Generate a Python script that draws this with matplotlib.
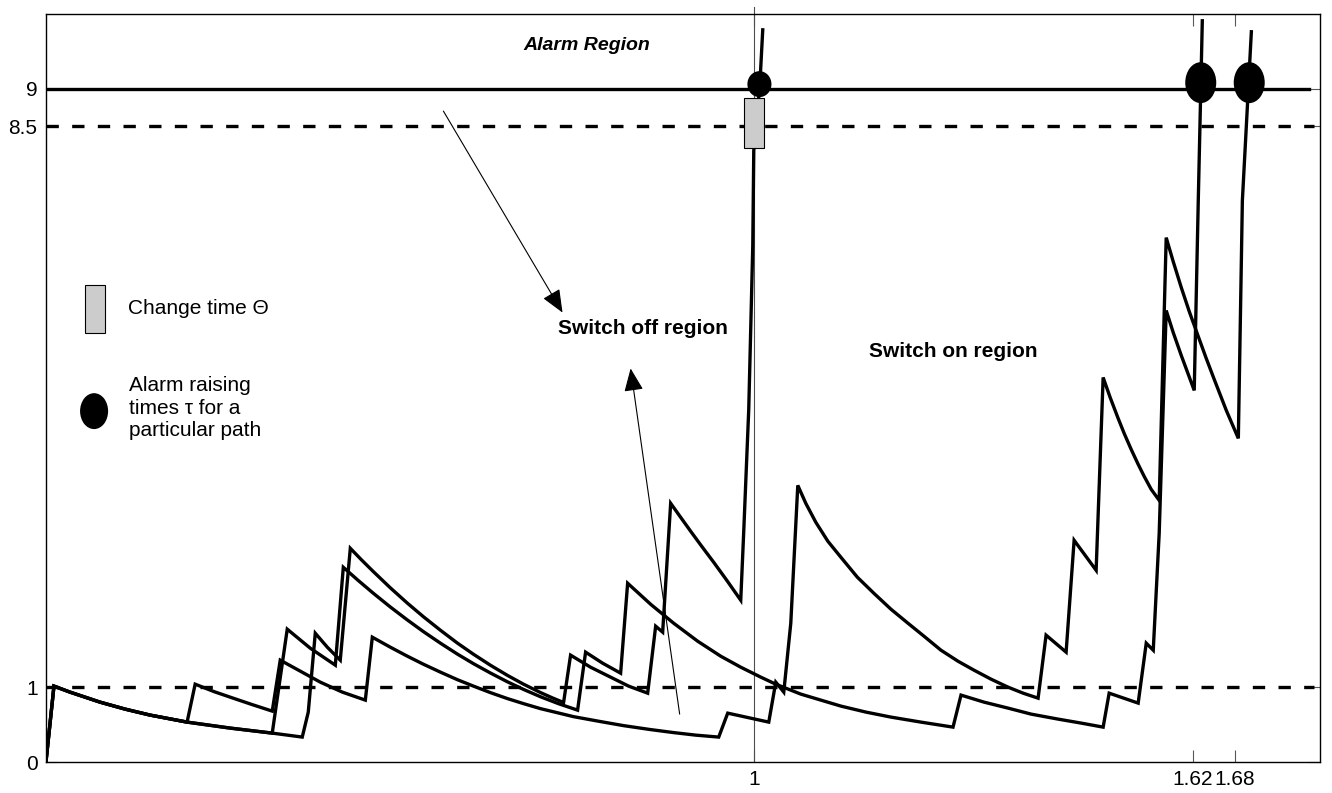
import matplotlib.pyplot as plt
from matplotlib.patches import Ellipse, Rectangle

plt.rcParams['font.family'] = ['Liberation Sans', 'DejaVu Sans']

# detection levels
alarm_level = 9
upper_level = 8.5
lower_level = 1
change_time = 1.0

# alarm raising times of the three paths
alarm_t = [1.008, 1.6315, 1.700]
alarm_y = [9.06, 9.08, 9.08]

# path that raises the alarm at 1.68
path1_t = [0, 0.0113, 0.0339, 0.0764, 0.1117, 0.1471, 0.1994,
           0.2108, 0.2376, 0.2645, 0.2914, 0.3197,
           0.3310, 0.3593, 0.3876, 0.4187, 0.4512,
           0.4611, 0.4866, 0.5106, 0.5332, 0.5573, 0.5813, 0.6040, 0.6280, 0.6521,
           0.6747, 0.6987, 0.7454, 0.7836, 0.8161, 0.8543, 0.8868, 0.9180, 0.9505,
           0.9632, 1.0212,
           1.0311, 1.0424,
           1.0523, 1.0622, 1.0735, 1.0877, 1.1047, 1.1231, 1.1464, 1.1697, 1.1938,
           1.2178, 1.2405, 1.2645, 1.2885, 1.3112, 1.3352, 1.3593, 1.3805, 1.4017,
           1.4130, 1.4413,
           1.4526, 1.4837,
           1.4936, 1.5035, 1.5148, 1.5233, 1.5332, 1.5431, 1.5516, 1.5615, 1.5728,
           1.5827, 1.5926, 1.6040, 1.6153, 1.6280, 1.6393, 1.6506, 1.6676, 1.6846,
           1.6874, 1.6903, 1.7030]
path1_y = [0, 1.015, 0.935, 0.801, 0.708, 0.628, 0.534,
           1.041, 0.941, 0.854, 0.768, 0.681,
           1.362, 1.215, 1.068, 0.935, 0.828,
           1.669, 1.535, 1.415, 1.308, 1.202, 1.101, 1.015, 0.928, 0.848,
           0.781, 0.714, 0.607, 0.541, 0.487, 0.434, 0.394, 0.360, 0.334,
           0.654, 0.534,
           1.068, 0.935,
           1.856, 3.698, 3.458, 3.204, 2.951, 2.737, 2.470, 2.256, 2.043,
           1.856, 1.682, 1.495, 1.348, 1.228, 1.108, 1.001, 0.921, 0.854,
           1.696, 1.469,
           2.964, 2.563,
           5.140, 4.873, 4.593, 4.393, 4.179, 3.979, 3.818, 3.645, 3.498,
           7.009, 6.689, 6.342, 6.021, 5.688, 5.394, 5.113, 4.700, 4.326,
           5.875, 7.503, 9.760]

# path that raises the alarm at 1.62
path2_t = [0, 0.0113, 0.0339, 0.0764, 0.1117, 0.1471, 0.1994, 0.2603, 0.3197,
           0.3409, 0.3734, 0.4088,
           0.4201, 0.4413, 0.4625, 0.4866, 0.5106, 0.5332, 0.5573, 0.5813, 0.6040,
           0.6280, 0.6521, 0.6747, 0.6987, 0.7242, 0.7511,
           0.7624, 0.7864, 0.8119,
           0.8218, 0.8543, 0.8868, 0.9208, 0.9533, 0.9816, 1.0099, 1.0311, 1.0665,
           1.1231, 1.1584, 1.1938, 1.2362, 1.2815,
           1.2928, 1.3253, 1.3593, 1.3918, 1.4300, 1.4625, 1.4936,
           1.5021, 1.5431,
           1.5545, 1.5644,
           1.5728, 1.5827, 1.5926, 1.6040, 1.6124, 1.6223,
           1.6280, 1.6337]
path2_y = [0, 1.015, 0.935, 0.801, 0.708, 0.628, 0.534, 0.454, 0.387,
           1.776, 1.522, 1.295,
           2.603, 2.426, 2.256, 2.072, 1.899, 1.744, 1.589, 1.443, 1.315,
           1.190, 1.072, 0.971, 0.873, 0.780, 0.694,
           1.469, 1.322, 1.188,
           2.390, 2.109, 1.856, 1.615, 1.415, 1.268, 1.135, 1.041, 0.908,
           0.748, 0.668, 0.601, 0.534, 0.467,
           0.895, 0.801, 0.721, 0.641, 0.574, 0.521, 0.467,
           0.921, 0.788,
           1.589, 1.495,
           3.057, 6.035, 5.741, 5.434, 5.220, 4.967,
           7.503, 9.907]

# path that raises the alarm right after the change time
path3_t = [0, 0.0113, 0.0339, 0.0764, 0.1117, 0.1471, 0.1994, 0.2603, 0.3197, 0.3621,
           0.3706, 0.3805, 0.3975, 0.4158,
           0.4300, 0.4455, 0.4625, 0.4866, 0.5106, 0.5332, 0.5573, 0.5813, 0.6040,
           0.6280, 0.6521, 0.6747, 0.6987, 0.7157, 0.7313,
           0.7412, 0.7694, 0.7977, 0.8232, 0.8501,
           0.8614, 0.8713,
           0.8826, 0.8967, 0.9109, 0.9264, 0.9434, 0.9618, 0.9816,
           0.9859, 0.9929, 0.9986, 1.0000, 1.0028, 1.0085, 1.0127]
path3_y = [0, 1.015, 0.935, 0.801, 0.708, 0.628, 0.534, 0.454, 0.387, 0.334,
           0.668, 1.722, 1.535, 1.362,
           2.857, 2.705, 2.546, 2.328, 2.124, 1.943, 1.762, 1.590, 1.441,
           1.294, 1.158, 1.041, 0.929, 0.857, 0.796,
           1.429, 1.268, 1.135, 1.015, 0.921,
           1.816, 1.736,
           3.458, 3.271, 3.084, 2.884, 2.670, 2.430, 2.163,
           3.097, 4.713, 6.903, 8.170, 8.438, 9.039, 9.786]

xticks = [1, 1.62, 1.68]
xtick_labels = ['1', '1.62', '1.68']
yticks = [0, 1, 8.5, 9]
ytick_labels = ['0', '1', '8.5', '9']

fig = plt.figure(figsize=(13.32, 7.93), dpi=100)
ax = fig.add_axes([0.0345, 0.039, 0.9565, 0.9436])

lw = 2.4
for t, y in [(path1_t, path1_y), (path2_t, path2_y), (path3_t, path3_y)]:
    ax.plot(t, y, color='k', lw=lw, solid_joinstyle='miter', zorder=3)

# alarm threshold and the two dashed levels
ax.plot([0, 1.784], [alarm_level, alarm_level], color='k', lw=lw, zorder=2)
for lev in [upper_level, lower_level]:
    ax.plot([0, 1.792], [lev, lev], color='k', lw=lw, dashes=(3.7, 4.0), zorder=2)

# thin marker of the change time
ax.plot([change_time, change_time], [0, 10.09], color='0.3', lw=0.8,
        clip_on=False, zorder=2)
ax.add_patch(Rectangle((change_time - 0.014, 8.21), 0.028, 0.66,
                       fc='#cccccc', ec='k', lw=0.8, zorder=4))

# alarm raising times
sizes = [(0.034, 0.347), (0.0438, 0.547), (0.0438, 0.547)]
for t, y, (w, h) in zip(alarm_t, alarm_y, sizes):
    ax.add_patch(Ellipse((t, y), w, h, fc='k', ec='none', zorder=5))

# legend entries drawn by hand
ax.add_patch(Rectangle((0.055, 5.73), 0.028, 0.64, fc='#cccccc', ec='k', lw=0.8))
ax.text(0.116, 6.06, 'Change time \u0398', fontsize=15, va='center')
ax.add_patch(Ellipse((0.068, 4.69), 0.0396, 0.48, fc='k', ec='none'))
ax.text(0.117, 4.73, 'Alarm raising\ntimes \u03c4 for a\nparticular path',
        fontsize=15, va='center', linespacing=1.23)

ax.text(0.675, 9.57, 'Alarm Region', fontsize=14, fontweight='bold',
        fontstyle='italic', va='center')
ax.text(0.723, 5.79, 'Switch off region', fontsize=15, fontweight='bold', va='center')
ax.text(1.163, 5.49, 'Switch on region', fontsize=15, fontweight='bold', va='center')

arrow = dict(arrowstyle='-|>,head_length=0.95,head_width=0.4', color='k',
             lw=0.8, shrinkA=0, shrinkB=0, mutation_scale=15)
ax.annotate('', xy=(0.7298, 6.007), xytext=(0.5615, 8.70), arrowprops=arrow)
ax.annotate('', xy=(0.826, 5.26), xytext=(0.8953, 0.641), arrowprops=arrow)

ax.set_xlim(0, 1.8)
ax.set_ylim(0, 10)
ax.set_xticks(xticks)
ax.set_xticklabels(xtick_labels)
ax.set_yticks(yticks)
ax.set_yticklabels(ytick_labels)
ax.tick_params(direction='in', length=8.6, width=0.8, color='0.35',
               top=True, right=True, labelsize=15, pad=6)
for s in ax.spines.values():
    s.set_linewidth(1.0)

fig.savefig('out.png', dpi=100)
